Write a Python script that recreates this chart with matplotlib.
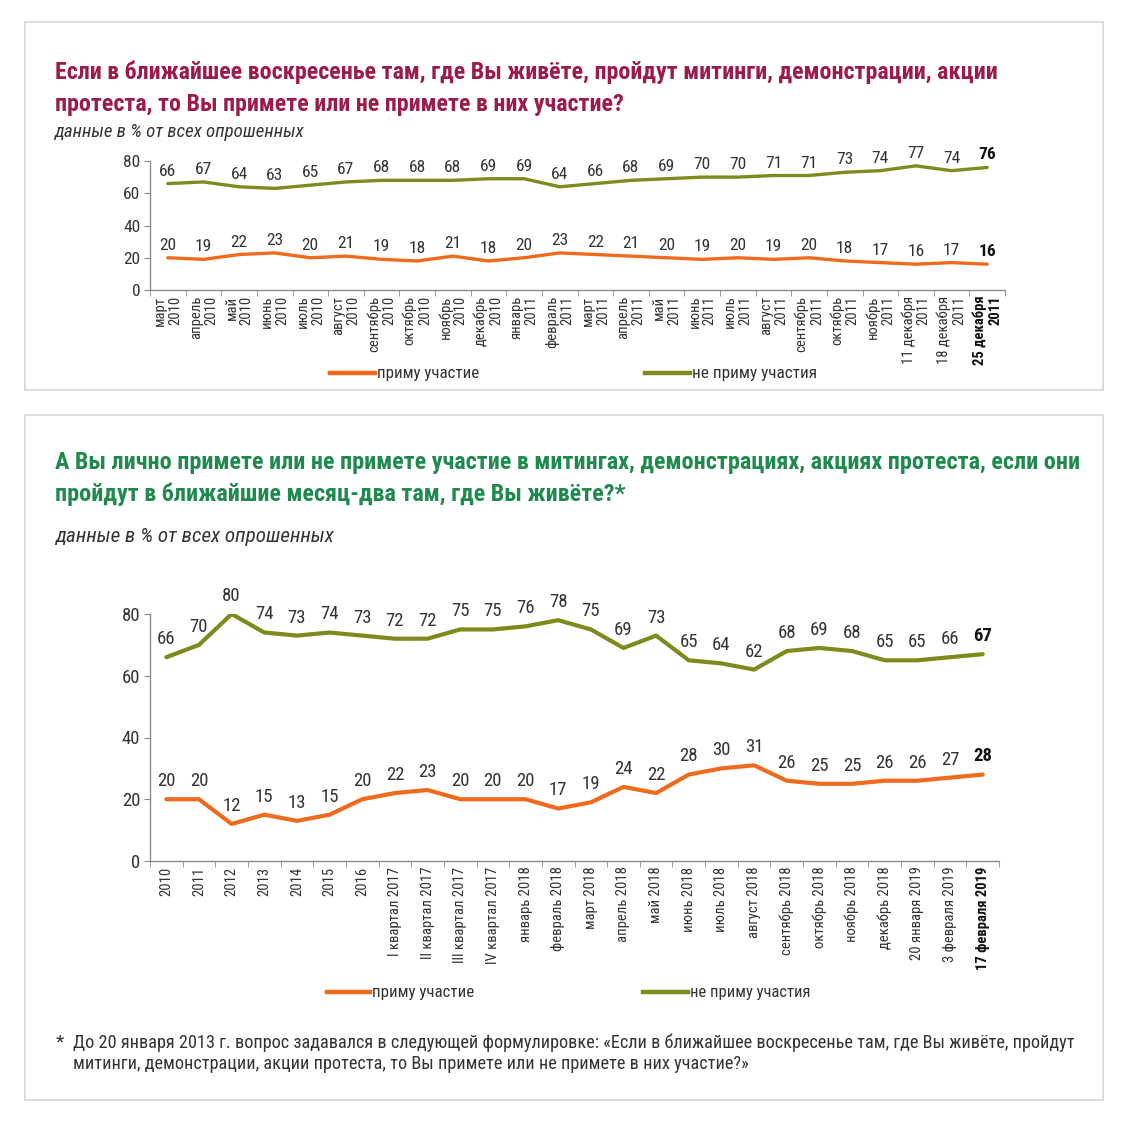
import matplotlib
matplotlib.use("Agg")
import matplotlib.pyplot as plt
import matplotlib.font_manager as fm
from matplotlib.patches import Rectangle
from matplotlib.lines import Line2D

# ---------- font choice: prefer a condensed sans ----------
_names = sorted({f.name for f in fm.fontManager.ttflist})
_pref = ["Liberation Sans Narrow", "Roboto Condensed", "Open Sans Condensed",
         "Noto Sans Condensed", "Noto Sans SemiCondensed", "DejaVu Sans Condensed"]
FAM = None
for p in _pref:
    if p in _names:
        FAM = p
        break
if FAM is None:
    cands = [n for n in _names if ("Condensed" in n or "Narrow" in n) and "CJK" not in n]
    FAM = cands[0] if cands else "Roboto"
plt.rcParams['font.family'] = [FAM, 'DejaVu Sans']

# ---------- data: top chart ----------
top_labels = ["март\n2010", "апрель\n2010", "май\n2010", "июнь\n2010", "июль\n2010",
              "август\n2010", "сентябрь\n2010", "октябрь\n2010", "ноябрь\n2010",
              "декабрь\n2010", "январь\n2011", "февраль\n2011", "март\n2011",
              "апрель\n2011", "май\n2011", "июнь\n2011", "июль\n2011", "август\n2011",
              "сентябрь\n2011", "октябрь\n2011", "ноябрь\n2011", "11 декабря\n2011",
              "18 декабря\n2011", "25 декабря\n2011"]
top_not = [66, 67, 64, 63, 65, 67, 68, 68, 68, 69, 69, 64, 66, 68, 69, 70, 70, 71, 71, 73, 74, 77, 74, 76]
top_yes = [20, 19, 22, 23, 20, 21, 19, 18, 21, 18, 20, 23, 22, 21, 20, 19, 20, 19, 20, 18, 17, 16, 17, 16]

# ---------- data: bottom chart ----------
bot_labels = ["2010", "2011", "2012", "2013", "2014", "2015", "2016",
              "I квартал 2017", "II квартал 2017", "III квартал 2017", "IV квартал 2017",
              "январь 2018", "февраль 2018", "март 2018", "апрель 2018", "май 2018",
              "июнь 2018", "июль 2018", "август 2018", "сентябрь 2018", "октябрь 2018",
              "ноябрь 2018", "декабрь 2018", "20 января 2019", "3 февраля 2019",
              "17 февраля 2019"]
bot_not = [66, 70, 80, 74, 73, 74, 73, 72, 72, 75, 75, 76, 78, 75, 69, 73, 65, 64, 62, 68, 69, 68, 65, 65, 66, 67]
bot_yes = [20, 20, 12, 15, 13, 15, 20, 22, 23, 20, 20, 20, 17, 19, 24, 22, 28, 30, 31, 26, 25, 25, 26, 26, 27, 28]

yticks = [0, 20, 40, 60, 80]
series_names = ["приму участие", "не приму участия"]

ORANGE = "#F06A1E"
OLIVE = "#7E8A1C"
TXT = "#333333"
AX = "#8C8C8C"
CRIMSON = "#9C1A4C"
GREEN = "#1F8A4E"

W = H = 1124
fig = plt.figure(figsize=(W / 100, H / 100), dpi=100)
fig.patch.set_facecolor("white")
renderer = fig.canvas.get_renderer()


def fx(px):
    return px / W


def fy(py):
    return 1 - py / H


def fit_text(x, y, s, target_w, fs, **kw):
    t = fig.text(fx(x), fy(y), s, fontsize=fs, va="center", ha="left", **kw)
    w = t.get_window_extent(renderer=renderer).width
    t.set_fontsize(fs * target_w / w)
    return t


# panel frames
for (x0, y0, x1, y1) in [(25, 22, 1103, 390), (25, 415, 1103, 1100)]:
    fig.patches.append(Rectangle((fx(x0), fy(y1)), fx(x1) - fx(x0), fy(y0) - fy(y1),
                                 transform=fig.transFigure, fill=False,
                                 edgecolor="#D5D5D5", linewidth=1.2))

TW = "semibold"
# titles (fitted to reference widths)
t1 = fit_text(55, 72, "Если в ближайшее воскресенье там, где Вы живёте, пройдут митинги, демонстрации, акции",
              943, 16, color=CRIMSON, fontweight=TW)
fig.text(fx(55), fy(104), "протеста, то Вы примете или не примете в них участие?",
         color=CRIMSON, fontsize=t1.get_fontsize(), fontweight=TW, va="center", ha="left")
fit_text(55, 132, "данные в % от всех опрошенных", 250, 11.5, color=TXT, style="italic")

t2 = fit_text(55, 462, "А Вы лично примете или не примете участие в митингах, демонстрациях, акциях протеста, если они",
              1028, 16, color=GREEN, fontweight=TW)
fig.text(fx(55), fy(494), "пройдут в ближайшие месяц-два там, где Вы живёте?*",
         color=GREEN, fontsize=t2.get_fontsize(), fontweight=TW, va="center", ha="left")
fit_text(55, 537, "данные в % от всех опрошенных", 278, 13, color=TXT, style="italic")

f1 = fit_text(73, 1043, "До 20 января 2013 г. вопрос задавался в следующей формулировке: «Если в ближайшее воскресенье там, где Вы живёте, пройдут",
              997, 11.5, color=TXT)
fig.text(fx(56), fy(1042), "*", color=TXT, fontsize=f1.get_fontsize() * 1.05, va="center", ha="left")
fig.text(fx(73), fy(1064), "митинги, демонстрации, акции протеста, то Вы примете или не примете в них участие?»",
         color=TXT, fontsize=f1.get_fontsize(), va="center", ha="left")


def draw(ax, labels, yes, no, lw, lab_fs, tick_fs, xfs, off, ls):
    n = len(labels)
    x = list(range(n))
    ax.plot(x, no, color=OLIVE, lw=lw, solid_joinstyle="round", solid_capstyle="round", zorder=3)
    ax.plot(x, yes, color=ORANGE, lw=lw, solid_joinstyle="round", solid_capstyle="round", zorder=3)
    for i in x:
        w = "bold" if i == n - 1 else "normal"
        c = "#111111" if i == n - 1 else TXT
        ax.annotate(str(no[i]), (i, no[i]), xytext=(0, off), textcoords="offset points",
                    ha="center", va="center", fontsize=lab_fs, color=c, fontweight=w)
        ax.annotate(str(yes[i]), (i, yes[i]), xytext=(0, off), textcoords="offset points",
                    ha="center", va="center", fontsize=lab_fs, color=c, fontweight=w)
    ax.set_xlim(-0.5, n - 0.5)
    ax.set_ylim(0, 80)
    ax.set_yticks(yticks)
    ax.set_yticklabels([str(v) for v in yticks], fontsize=tick_fs, color=TXT)
    for s in ["top", "right"]:
        ax.spines[s].set_visible(False)
    for s in ["left", "bottom"]:
        ax.spines[s].set_color(AX)
        ax.spines[s].set_linewidth(1.0)
    ax.tick_params(axis="y", length=4, color=AX, pad=3)
    ax.set_xticks([i + 0.5 for i in range(-1, n)], minor=True)
    ax.set_xticks(x)
    ax.tick_params(axis="x", which="minor", length=4, color=AX)
    ax.tick_params(axis="x", which="major", length=0, pad=4)
    ax.set_xticklabels(labels, rotation=90, fontsize=xfs, color=TXT,
                       linespacing=ls, va="top", ha="center", multialignment="right")
    ax.get_xticklabels()[-1].set_fontweight("bold")
    ax.get_xticklabels()[-1].set_color("#111111")
    ax.set_facecolor("none")


ax1 = fig.add_axes([fx(150), fy(290), fx(1005) - fx(150), fy(161) - fy(290)])
draw(ax1, top_labels, top_yes, top_not, lw=2.4, lab_fs=12.5, tick_fs=12.5, xfs=10.5, off=9, ls=1.12)

ax2 = fig.add_axes([fx(150), fy(861), fx(999) - fx(150), fy(614) - fy(861)])
draw(ax2, bot_labels, bot_yes, bot_not, lw=3.0, lab_fs=13.5, tick_fs=13.5, xfs=10.5, off=13, ls=1.0)


def legend_item(x0, x1, y, color, text, tw):
    fig.lines.append(Line2D([fx(x0), fx(x1)], [fy(y), fy(y)], transform=fig.transFigure,
                            color=color, lw=3.2))
    fit_text(x1 + 2, y, text, tw, 11, color=TXT)


legend_item(330, 375, 373, ORANGE, series_names[0], 102)
legend_item(645, 690, 373, OLIVE, series_names[1], 125)
legend_item(327, 370, 992, ORANGE, series_names[0], 102)
legend_item(643, 688, 992, OLIVE, series_names[1], 120)

fig.savefig("out.png", dpi=100, facecolor="white")
